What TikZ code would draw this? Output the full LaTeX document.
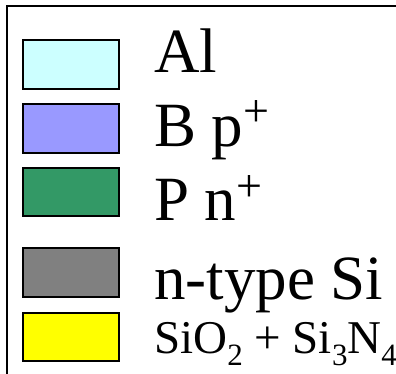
\documentclass[tikz,border=0pt]{standalone}
\usepackage{fontspec}
\setmainfont{Liberation Serif}
% raised plus sign and lowered index digits
\newcommand\supplus{{\fontsize{46}{46}\selectfont\raisebox{20pt}{+}}}
\newcommand\subnum[1]{{\fontsize{31}{31}\selectfont\raisebox{-12pt}{#1}}}
\begin{document}
\begin{tikzpicture}[x=1pt,y=-1pt,
  swatch/.style={draw=black, line width=1.5pt},
  label/.style={anchor=base west, inner sep=0pt, font=\fontsize{63}{63}\selectfont},
  smalllabel/.style={anchor=base west, inner sep=0pt, font=\fontsize{47}{47}\selectfont}]
\useasboundingbox (0,0) rectangle (396,374);
% frame, running off the right and bottom edges
\draw[line width=2.3pt] (7,390) -- (7,6) -- (410,6);
% colour swatches
\path[swatch, fill={rgb,255:red,204;green,255;blue,255}] (23,40) rectangle (119,89);
\path[swatch, fill={rgb,255:red,153;green,153;blue,255}] (23,104) rectangle (119,153);
\path[swatch, fill={rgb,255:red,51;green,153;blue,102}] (23,168) rectangle (119,216);
\path[swatch, fill={rgb,255:red,128;green,128;blue,128}] (23,248) rectangle (119,297);
\path[swatch, fill={rgb,255:red,255;green,255;blue,0}] (23,313) rectangle (119,361);
% labels
\node[label] (al) at (154,73) {Al};
\node[label] (bp) at (154,147) {B p\supplus};
\node[label] (pn) at (154,221) {P n\supplus};
\node[label] (si) at (154,299) {n-type Si};
\node[smalllabel] (ox) at (154,353) {SiO\subnum{2} + Si\subnum{3}N\subnum{4}};
\end{tikzpicture}
\end{document}
